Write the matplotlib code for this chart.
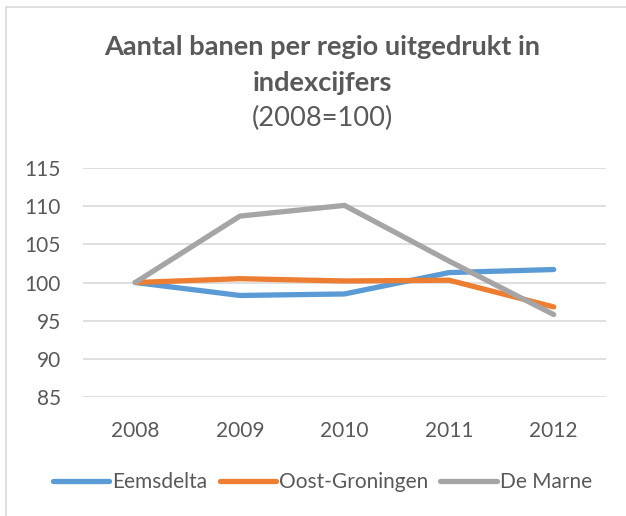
import matplotlib
matplotlib.use("Agg")
import matplotlib.pyplot as plt
from matplotlib.patches import Rectangle

years = ["2008", "2009", "2010", "2011", "2012"]
eemsdelta = [100, 98.3, 98.5, 101.3, 101.7]
oost_groningen = [100, 100.5, 100.2, 100.3, 96.8]
de_marne = [100, 108.7, 110.1, 102.8, 95.8]
series_names = ["Eemsdelta", "Oost-Groningen", "De Marne"]
colors = ["#5b9bd5", "#ed7d31", "#a5a5a5"]
yticks = [85, 90, 95, 100, 105, 110, 115]

plt.rcParams['font.family'] = ['Lato', 'DejaVu Sans']
txt = "#595959"

W, H = 626, 516
fig = plt.figure(figsize=(W/100, H/100), dpi=100)
fig.patch.set_facecolor("white")

# chart border (partially outside image)
fig.add_artist(Rectangle((6/W, -0.05), 1.0, 1 - 7/H + 0.05, transform=fig.transFigure,
                         fill=False, edgecolor="#d9d9d9", linewidth=1.2))

ax = fig.add_axes([83/W, 1-397/H, (606-83)/W, (397-168)/H])
x = list(range(len(years)))
for vals, name, c in zip([eemsdelta, oost_groningen, de_marne], series_names, colors):
    ax.plot(x, vals, color=c, linewidth=3.8, label=name, solid_capstyle="round", solid_joinstyle="round")

ax.set_xlim(-0.5, len(years) - 0.5)
ax.set_ylim(85, 115)
ax.set_yticks(yticks)
ax.set_xticks(x)
ax.set_xticklabels(years)
ax.grid(axis="y", color="#d9d9d9", linewidth=1.2)
ax.set_axisbelow(True)
for s in ax.spines.values():
    s.set_visible(False)
ax.tick_params(axis="both", length=0, labelsize=15, colors=txt)
ax.tick_params(axis="y", pad=16)
ax.tick_params(axis="x", pad=17)

fig.text(0.515, 1-47/H, "Aantal banen per regio uitgedrukt in", ha="center", va="center",
         fontsize=19.6, fontweight="bold", color=txt)
fig.text(0.515, 1-83/H, "indexcijfers", ha="center", va="center",
         fontsize=19.6, fontweight="bold", color=txt)
fig.text(0.515, 1-118/H, "(2008=100)", ha="center", va="center",
         fontsize=19.6, color=txt)

leg = fig.legend(loc="center", bbox_to_anchor=(0.515, 1-482/H), ncol=3, frameon=False,
                 fontsize=15, handlelength=2.7, handletextpad=0.15, columnspacing=0.58,
                 labelcolor=txt)

fig.savefig("out.png", dpi=100, facecolor="white")
